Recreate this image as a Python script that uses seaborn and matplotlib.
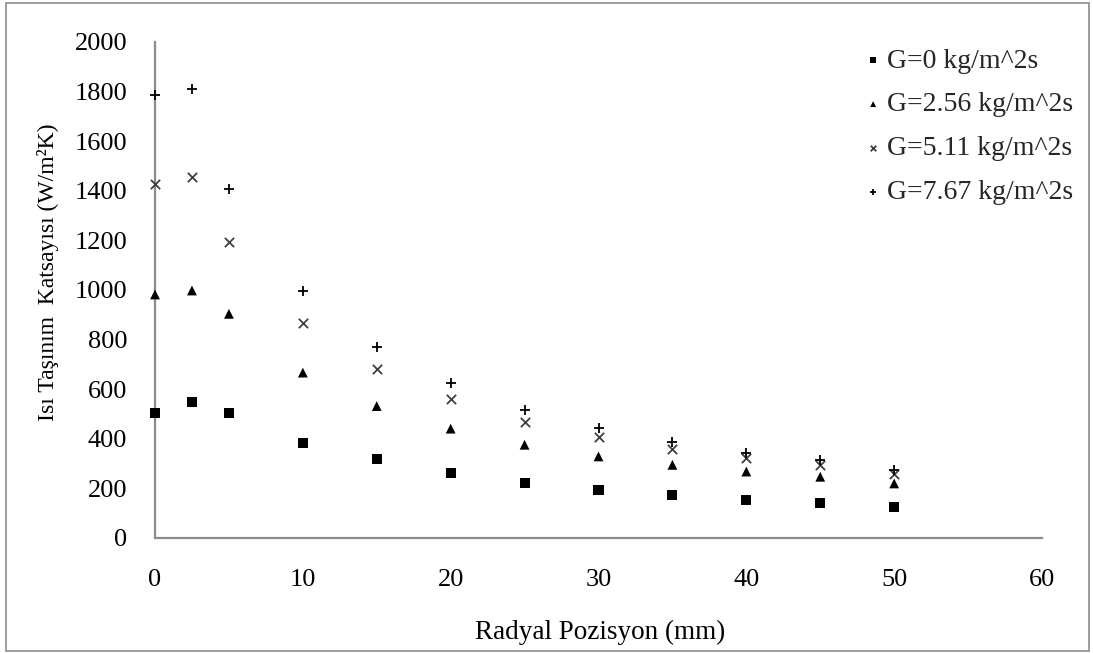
import matplotlib
matplotlib.use("Agg")
import matplotlib.pyplot as plt
import seaborn as sns
import pandas as pd

# Radial positions (mm)
radial_mm = [0, 2.5, 5, 10, 15, 20, 25, 30, 35, 40, 45, 50]

# Heat transfer coefficient (W/m^2K) for each mass flux
h_g0 = [505, 550, 505, 385, 318, 264, 223, 194, 173, 154, 141, 126]
h_g256 = [982, 998, 904, 667, 532, 441, 376, 329, 295, 268, 247, 220]
h_g511 = [1429, 1457, 1195, 865, 680, 559, 468, 408, 360, 321, 294, 258]
h_g767 = [1787, 1812, 1407, 997, 771, 626, 516, 443, 388, 342, 314, 275]

series_labels = ["G=0 kg/m^2s", "G=2.56 kg/m^2s", "G=5.11 kg/m^2s", "G=7.67 kg/m^2s"]
series_values = [h_g0, h_g256, h_g511, h_g767]

x_ticks = [0, 10, 20, 30, 40, 50, 60]
y_ticks = [0, 200, 400, 600, 800, 1000, 1200, 1400, 1600, 1800, 2000]

df = pd.DataFrame({
    "x": radial_mm * len(series_labels),
    "h": [v for vals in series_values for v in vals],
    "seri": [lab for lab in series_labels for _ in radial_mm],
})

sns.set_theme(style="white")
plt.rcParams["font.family"] = ["Liberation Serif", "DejaVu Serif"]

TICK_FS = 19
XLAB_FS = 19.5
YLAB_FS = 17
LEG_FS = 20

fig = plt.figure(figsize=(10.93, 6.53), dpi=100)
ax = fig.add_axes([155 / 1093, 1 - 538 / 653, (1042 - 155) / 1093, (538 - 42) / 653])

markers = {series_labels[0]: "s", series_labels[1]: "^",
           series_labels[2]: "x", series_labels[3]: "+"}
palette = {series_labels[0]: "black", series_labels[1]: "black",
           series_labels[2]: "#404040", series_labels[3]: "black"}
sizes = {series_labels[0]: 52, series_labels[1]: 50,
         series_labels[2]: 45, series_labels[3]: 55}

for lab in series_labels:
    sub = df[df["seri"] == lab]
    is_line = markers[lab] in ("x", "+")
    sns.scatterplot(data=sub, x="x", y="h", marker=markers[lab], color=palette[lab],
                    s=sizes[lab], linewidth=1.3 if is_line else 0,
                    edgecolor=palette[lab] if is_line else "none",
                    label=lab, ax=ax, zorder=3, clip_on=False)

ax.set_xlim(0, 60)
ax.set_ylim(0, 2000)
ax.set_xticks(x_ticks)
ax.set_yticks(y_ticks)
ax.tick_params(axis="both", which="both", length=0, labelsize=TICK_FS, colors="black")
ax.tick_params(axis="x", pad=22)
ax.tick_params(axis="y", pad=20)

for side in ("top", "right"):
    ax.spines[side].set_visible(False)
for side in ("left", "bottom"):
    ax.spines[side].set_color("#8c8c8c")
    ax.spines[side].set_linewidth(1.6)

ax.set_xlabel("Radyal Pozisyon (mm)", fontsize=XLAB_FS, color="black")
ax.set_ylabel("Isı Taşınım  Katsayısı (W/m²K)", fontsize=YLAB_FS, color="black")
ax.xaxis.set_label_coords(0.502, -0.166)
ax.yaxis.set_label_coords(-0.108, 0.536)

leg = ax.legend(loc="upper left", bbox_to_anchor=(0.783, 1.01), frameon=False,
                fontsize=LEG_FS, markerscale=0.6, handletextpad=0.05,
                labelspacing=0.66, handlelength=0.9, borderaxespad=0)

# Outer chart frame
fig.patches.append(plt.Rectangle((6 / 1093, 2 / 653), 1 - 10 / 1093, 1 - 5 / 653,
                                 transform=fig.transFigure, fill=False,
                                 edgecolor="#8c8c8c", linewidth=1.2))

fig.savefig("out.png", dpi=100, facecolor="white")
